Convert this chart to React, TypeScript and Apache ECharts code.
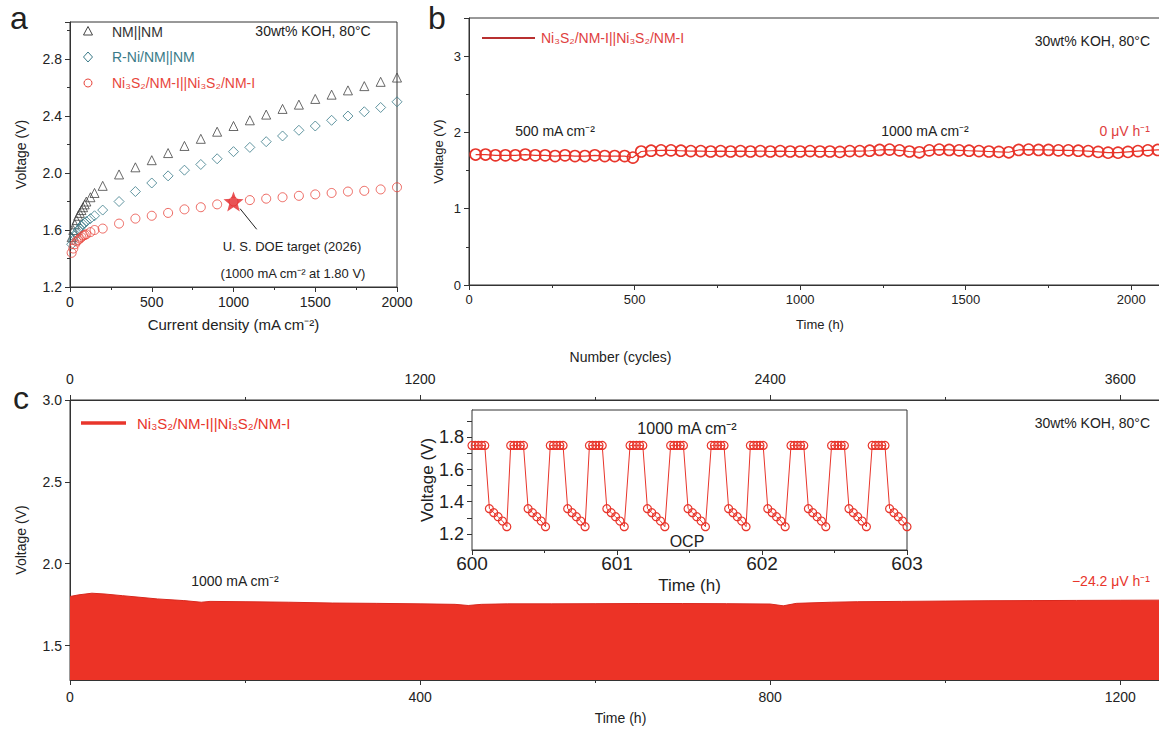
import React, { useEffect, useRef } from "react";
import * as echarts from "echarts";

// ---------- Panel a: polarization curves ----------
const aCurrent = [10, 20, 30, 40, 50, 60, 70, 80, 90, 100, 125, 150, 200, 300, 400, 500, 600, 700, 800, 900, 1000, 1100, 1200, 1300, 1400, 1500, 1600, 1700, 1800, 1900, 2000];
const aNM = [1.55, 1.6, 1.64, 1.67, 1.7, 1.72, 1.74, 1.76, 1.78, 1.8, 1.83, 1.86, 1.91, 1.99, 2.04, 2.09, 2.14, 2.19, 2.24, 2.29, 2.33, 2.37, 2.41, 2.45, 2.48, 2.52, 2.55, 2.58, 2.61, 2.64, 2.67];
const aRNi = [1.5, 1.53, 1.56, 1.58, 1.6, 1.61, 1.63, 1.64, 1.65, 1.66, 1.68, 1.7, 1.74, 1.8, 1.87, 1.93, 1.98, 2.02, 2.06, 2.1, 2.15, 2.18, 2.22, 2.26, 2.3, 2.33, 2.37, 2.4, 2.43, 2.46, 2.5];
const aNi3S2 = [1.44, 1.47, 1.5, 1.52, 1.53, 1.54, 1.55, 1.56, 1.565, 1.57, 1.585, 1.6, 1.61, 1.645, 1.68, 1.7, 1.72, 1.745, 1.76, 1.78, 1.8, 1.81, 1.82, 1.83, 1.84, 1.85, 1.86, 1.87, 1.875, 1.885, 1.9];
const doeTarget = [1000, 1.8];

// ---------- Panel b: stability at 500 / 1000 mA cm-2 ----------
const bTime = [20, 50, 80, 110, 140, 170, 200, 230, 260, 290, 320, 350, 380, 410, 440, 470, 495,
  520, 550, 580, 610, 640, 670, 700, 730, 760, 790, 820, 850, 880, 910, 940, 970, 1000,
  1030, 1060, 1090, 1120, 1150, 1180, 1210, 1240, 1270, 1300, 1330, 1360, 1390, 1420, 1450, 1480,
  1510, 1540, 1570, 1600, 1630, 1660, 1690, 1720, 1750, 1780, 1810, 1840, 1870, 1900, 1930, 1960,
  1990, 2020, 2050, 2080, 2110];
const bVolt = [1.71, 1.71, 1.7, 1.7, 1.7, 1.71, 1.7, 1.7, 1.69, 1.7, 1.69, 1.69, 1.7, 1.69, 1.69, 1.69, 1.67,
  1.75, 1.76, 1.765, 1.765, 1.76, 1.755, 1.755, 1.75, 1.755, 1.75, 1.755, 1.75, 1.755, 1.75, 1.755, 1.75, 1.75,
  1.755, 1.75, 1.75, 1.745, 1.755, 1.755, 1.76, 1.77, 1.775, 1.765, 1.75, 1.74, 1.765, 1.775, 1.77, 1.765,
  1.76, 1.755, 1.75, 1.745, 1.74, 1.77, 1.775, 1.77, 1.77, 1.765, 1.765, 1.76, 1.755, 1.745, 1.735, 1.735,
  1.745, 1.755, 1.765, 1.77, 1.77];

// ---------- Panel c: intermittent cycling (upper envelope) ----------
const cTime = [0, 10, 25, 40, 60, 80, 100, 130, 150, 160, 200, 250, 300, 350, 400, 440, 455, 470, 500, 550,
  600, 650, 700, 750, 800, 815, 830, 870, 900, 950, 1000, 1050, 1100, 1150, 1200, 1258];
const cUpper = [1.8, 1.81, 1.82, 1.815, 1.805, 1.795, 1.785, 1.775, 1.765, 1.77, 1.768, 1.765, 1.76, 1.758, 1.755, 1.752, 1.745, 1.752, 1.755, 1.755,
  1.756, 1.757, 1.757, 1.756, 1.754, 1.743, 1.758, 1.765, 1.768, 1.77, 1.772, 1.774, 1.775, 1.776, 1.777, 1.778];

// ---------- Panel c inset: 600-603 h ----------
const insetCycleStart = [600.0, 600.267, 600.54, 600.81, 601.09, 601.37, 601.65, 601.92, 602.2, 602.48, 602.76];
const insetHighOffset = [0, 0.022, 0.044, 0.066, 0.088];
const insetHighVolt = 1.75;
const insetOcpOffset = [0.12, 0.15, 0.18, 0.21, 0.24];
const insetOcpVolt = [1.357, 1.332, 1.307, 1.28, 1.245];

const FONT = "'Liberation Sans', Arial, Helvetica, sans-serif";
const AX = "#333333";
const TXT = "#222222";
const RED = "#e8352b";
const TEAL = "#3a7a88";

function txt(text: string, x: number, y: number, o: any = {}) {
  const align = o.align || "center";
  return {
    type: "text",
    silent: true,
    z: 100,
    style: {
      text,
      x,
      y,
      fill: o.color || TXT,
      fontSize: o.size || 14,
      fontFamily: FONT,
      fontWeight: o.weight || "normal",
      align,
      verticalAlign: "middle",
      textAlign: align,
      textVerticalAlign: "middle",
    },
  };
}

const plain = (v: number) => String(Math.round(v));
const f1 = (v: number) => v.toFixed(1);

function axis(o: any) {
  const fs = o.fontSize || 14;
  return {
    type: "value",
    gridIndex: o.gridIndex,
    position: o.position,
    min: o.min,
    max: o.max,
    interval: o.interval,
    splitNumber: o.splitNumber,
    name: o.name,
    nameLocation: "middle",
    nameGap: o.nameGap,
    nameMoveOverlap: false,
    nameTextStyle: { color: TXT, fontSize: o.nameSize || fs, fontFamily: FONT },
    axisLine: { show: true, onZero: false, lineStyle: { color: AX, width: 1 } },
    axisTick: { show: true, inside: false, length: 5, lineStyle: { color: AX, width: 1 } },
    minorTick: { show: o.minor !== false, splitNumber: 2, length: 3, lineStyle: { color: AX, width: 1 } },
    splitLine: { show: false },
    minorSplitLine: { show: false },
    axisLabel: {
      color: TXT,
      fontSize: fs,
      fontFamily: FONT,
      margin: o.margin != null ? o.margin : 8,
      formatter: o.formatter || plain,
      showMinLabel: o.showMinLabel,
      showMaxLabel: o.showMaxLabel,
    },
  };
}

const gridBase = {
  show: true,
  borderColor: AX,
  borderWidth: 1,
  backgroundColor: "transparent",
  containLabel: false,
  outerBoundsMode: "none",
};

export default function App() {
  const ref = useRef<HTMLDivElement>(null);

  useEffect(() => {
    if (!ref.current) return;
    const chart = echarts.init(ref.current, undefined, { renderer: "svg" });

    const insetData: any[] = [];
    insetCycleStart.forEach((s) => {
      insetHighOffset.forEach((d) => insetData.push([s + d, insetHighVolt]));
      insetOcpOffset.forEach((d, i) => insetData.push([s + d, insetOcpVolt[i]]));
    });

    const option: any = {
      animation: false,
      backgroundColor: "#ffffff",
      textStyle: { fontFamily: FONT },
      grid: [
        { ...gridBase, left: 70, top: 22, width: 327, height: 265 },
        { ...gridBase, left: 469, top: 18, width: 702, height: 267 },
        { ...gridBase, left: 70, top: 400, width: 1101, height: 280 },
        { ...gridBase, left: 472, top: 410, width: 435, height: 140, backgroundColor: "#ffffff", z: 5 },
      ],
      xAxis: [
        axis({ gridIndex: 0, min: 0, max: 2000, interval: 500, name: "Current density (mA cm⁻²)", nameGap: 30, fontSize: 14, nameSize: 15 }),
        axis({ gridIndex: 1, min: 0, max: 2120, interval: 500, name: "Time (h)", nameGap: 33, fontSize: 13, showMaxLabel: false }),
        axis({ gridIndex: 2, min: 0, max: 1258, interval: 400, name: "Time (h)", nameGap: 31, fontSize: 14, margin: 10, showMaxLabel: false }),
        axis({ gridIndex: 2, position: "top", min: 0, max: 3774, interval: 1200, name: "Number (cycles)", nameGap: 36, fontSize: 14, margin: 14, showMaxLabel: false }),
        axis({ gridIndex: 3, min: 600, max: 603, interval: 1, name: "Time (h)", nameGap: 27, fontSize: 19, nameSize: 17, margin: 4 }),
      ],
      yAxis: [
        axis({ gridIndex: 0, min: 1.2, max: 3.06, interval: 0.4, name: "Voltage (V)", nameGap: 42, fontSize: 14, formatter: f1, showMaxLabel: false }),
        axis({ gridIndex: 1, min: 0, max: 3.5, interval: 1, name: "Voltage (V)", nameGap: 24, fontSize: 13, showMaxLabel: false }),
        axis({ gridIndex: 2, min: 1.29, max: 3.0, splitNumber: 3, name: "Voltage (V)", nameGap: 42, fontSize: 14, formatter: f1, showMinLabel: false, minor: false }),
        axis({
          gridIndex: 3, min: 1.1, max: 1.97, interval: 0.1, name: "Voltage (V)", nameGap: 36, fontSize: 18, nameSize: 17, minor: false,
          formatter: (v: number) => {
            const k = Math.round(v * 10);
            return k % 2 === 0 && k >= 12 && k <= 18 ? (k / 10).toFixed(1) : "";
          },
          showMinLabel: false, showMaxLabel: false,
        }),
      ],
      series: [
        {
          name: "NM||NM", type: "scatter", xAxisIndex: 0, yAxisIndex: 0,
          data: aCurrent.map((x, i) => [x, aNM[i]]),
          symbol: "triangle", symbolSize: 9,
          itemStyle: { color: "rgba(0,0,0,0)", borderColor: "#444444", borderWidth: 1 },
        },
        {
          name: "R-Ni/NM||NM", type: "scatter", xAxisIndex: 0, yAxisIndex: 0,
          data: aCurrent.map((x, i) => [x, aRNi[i]]),
          symbol: "diamond", symbolSize: 10,
          itemStyle: { color: "rgba(0,0,0,0)", borderColor: TEAL, borderWidth: 1 },
        },
        {
          name: "Ni3S2 a", type: "scatter", xAxisIndex: 0, yAxisIndex: 0,
          data: aCurrent.map((x, i) => [x, aNi3S2[i]]),
          symbol: "circle", symbolSize: 9,
          itemStyle: { color: "rgba(0,0,0,0)", borderColor: "#e8453c", borderWidth: 1 },
        },
        {
          name: "DOE", type: "scatter", xAxisIndex: 0, yAxisIndex: 0, z: 5,
          data: [doeTarget],
          symbol: "path://M12,1 L14.9,8.6 L23,9 L16.7,14.1 L18.9,22 L12,17.5 L5.1,22 L7.3,14.1 L1,9 L9.1,8.6 Z",
          symbolSize: 20,
          itemStyle: { color: "#e3282a" },
          markLine: {
            silent: true,
            symbol: ["none", "arrow"],
            symbolSize: [0, 7],
            lineStyle: { color: "#222222", width: 1, type: "solid" },
            label: { show: false },
            data: [[{ coord: [1040, 1.75] }, { coord: [1142, 1.605] }]],
          },
        },
        {
          name: "Ni3S2 b", type: "line", xAxisIndex: 1, yAxisIndex: 1,
          data: bTime.map((t, i) => [t, bVolt[i]]),
          symbol: "circle", symbolSize: 11, showAllSymbol: true,
          itemStyle: { color: "rgba(0,0,0,0)", borderColor: RED, borderWidth: 1.6 },
          lineStyle: { color: RED, width: 1.2 },
        },
        {
          name: "Ni3S2 c", type: "line", xAxisIndex: 2, yAxisIndex: 2,
          data: cTime.map((t, i) => [t, cUpper[i]]),
          symbol: "none",
          lineStyle: { color: "#d8291f", width: 1 },
          areaStyle: { color: "#ec3326", origin: "start", opacity: 1 },
        },
        {
          name: "inset", type: "line", xAxisIndex: 4, yAxisIndex: 3, z: 6,
          data: insetData,
          symbol: "circle", symbolSize: 8, showAllSymbol: true,
          itemStyle: { color: "rgba(0,0,0,0)", borderColor: RED, borderWidth: 1.2 },
          lineStyle: { color: RED, width: 1 },
        },
      ],
      graphic: [
        // panel labels
        txt("a", 19, 18, { size: 32 }),
        txt("b", 437, 18, { size: 32 }),
        txt("c", 21, 398, { size: 32 }),
        // panel a legend & notes
        { type: "polygon", silent: true, z: 100, shape: { points: [[88, 26.5], [83.5, 35], [92.5, 35]] }, style: { fill: "none", stroke: "#444444", lineWidth: 1 } },
        txt("NM||NM", 112, 32, { align: "left", color: "#333333" }),
        { type: "polygon", silent: true, z: 100, shape: { points: [[88, 52], [92.5, 57], [88, 62], [83.5, 57]] }, style: { fill: "none", stroke: TEAL, lineWidth: 1 } },
        txt("R-Ni/NM||NM", 112, 57, { align: "left", color: TEAL }),
        { type: "circle", silent: true, z: 100, shape: { cx: 88, cy: 83, r: 4 }, style: { fill: "none", stroke: "#e8453c", lineWidth: 1 } },
        txt("Ni₃S₂/NM-I||Ni₃S₂/NM-I", 112, 83, { align: "left", color: "#e8453c" }),
        txt("30wt% KOH, 80°C", 313, 31),
        txt("U. S. DOE target (2026)", 292, 246, { size: 13 }),
        txt("(1000 mA cm⁻² at 1.80 V)", 293, 273, { size: 13 }),
        // panel b
        { type: "line", silent: true, z: 100, shape: { x1: 482, y1: 38, x2: 535, y2: 38 }, style: { stroke: "#b83030", lineWidth: 2 } },
        txt("Ni₃S₂/NM-I||Ni₃S₂/NM-I", 541, 38, { align: "left", color: "#e04040" }),
        txt("30wt% KOH, 80°C", 1150, 41, { align: "right" }),
        txt("500 mA cm⁻²", 555, 131),
        txt("1000 mA cm⁻²", 925, 131),
        txt("0 μV h⁻¹", 1150, 131, { align: "right", color: "#e04040" }),
        // panel c
        { type: "line", silent: true, z: 100, shape: { x1: 81, y1: 423, x2: 126, y2: 423 }, style: { stroke: RED, lineWidth: 3.5 } },
        txt("Ni₃S₂/NM-I||Ni₃S₂/NM-I", 137, 423, { align: "left", color: RED, size: 15 }),
        txt("30wt% KOH, 80°C", 1150, 423, { align: "right" }),
        txt("1000 mA cm⁻²", 235, 581),
        txt("−24.2 μV h⁻¹", 1150, 581, { align: "right", color: RED }),
        txt("1000 mA cm⁻²", 687, 428, { size: 16 }),
        txt("OCP", 687, 541, { size: 16 }),
      ],
    };

    chart.setOption(option);
    return () => chart.dispose();
  }, []);

  return (
    <div
      ref={ref}
      style={{ position: "absolute", left: 0, top: 0, width: 1159, height: 730, background: "#fff" }}
    />
  );
}
